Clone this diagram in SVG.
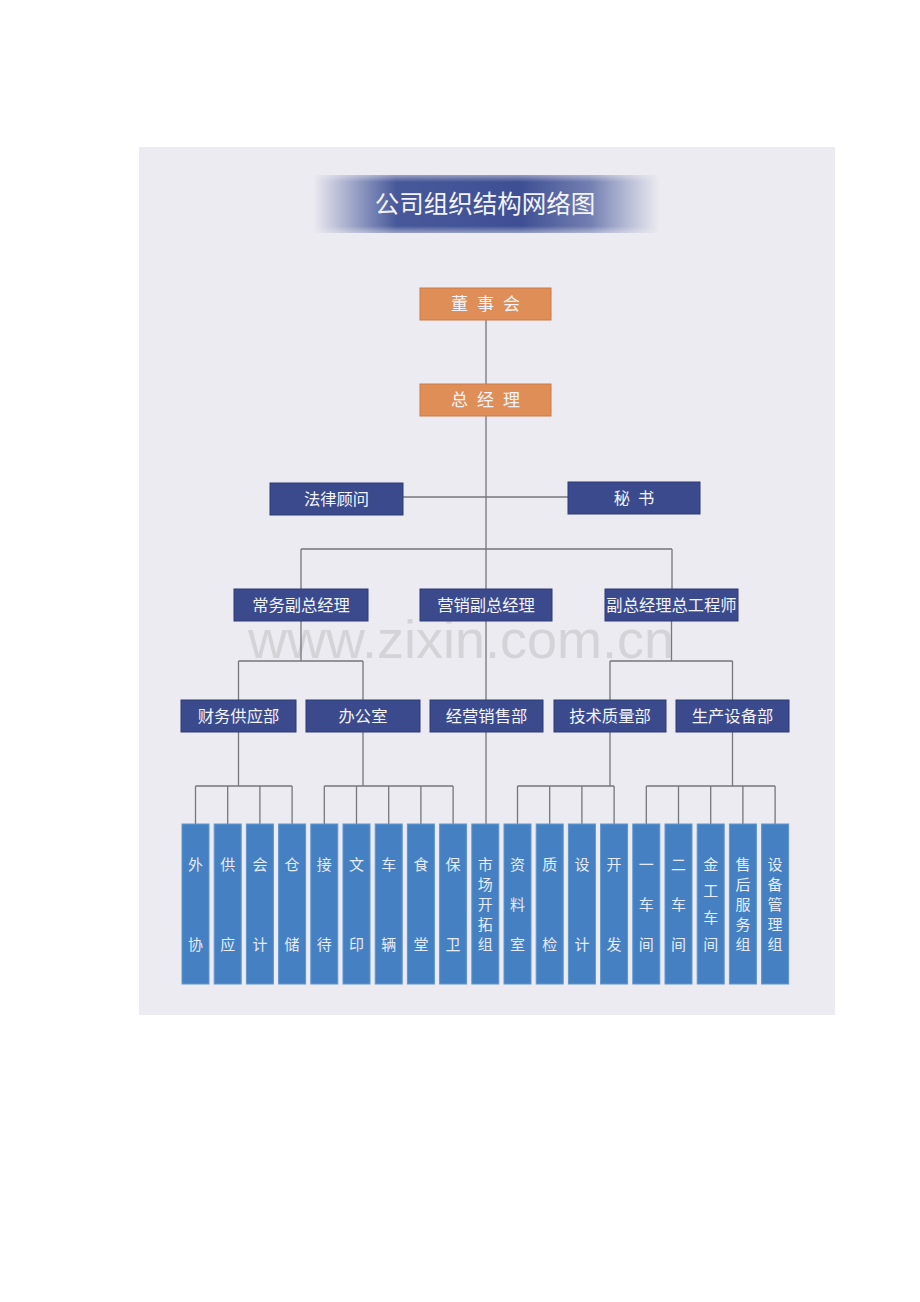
<svg xmlns="http://www.w3.org/2000/svg" width="920" height="1302" viewBox="0 0 920 1302">
<defs>
<linearGradient id="ban" x1="0" y1="0" x2="1" y2="0">
<stop offset="0" stop-color="#3f5196" stop-opacity="0"/>
<stop offset="0.24" stop-color="#3f5196" stop-opacity="0.95"/>
<stop offset="0.6" stop-color="#3e4f94" stop-opacity="1"/>
<stop offset="0.8" stop-color="#4a5b9c" stop-opacity="0.75"/>
<stop offset="1" stop-color="#5a6aa6" stop-opacity="0"/>
</linearGradient>
<linearGradient id="banv" x1="0" y1="0" x2="0" y2="1">
<stop offset="0" stop-color="#ecebf1" stop-opacity="0.5"/>
<stop offset="0.12" stop-color="#ecebf1" stop-opacity="0"/>
<stop offset="0.88" stop-color="#ecebf1" stop-opacity="0"/>
<stop offset="1" stop-color="#ecebf1" stop-opacity="0.5"/>
</linearGradient>
</defs>
<style>
.t{font-family:"Noto Sans CJK SC","Noto Sans",sans-serif;fill:#f2f4fa;text-anchor:middle}
.or{fill:#e08e58;stroke:#c97a46;stroke-width:1}
.nv{fill:#3b4a8d;stroke:#2e3b75;stroke-width:1}
.bl{fill:#4480c2;stroke:#5e96d0;stroke-width:1}
.ln{stroke:#76767c;stroke-width:1.3;fill:none}
.m{font-size:16.3px}
.o{font-size:17px;letter-spacing:9px}
.v{font-size:15px;fill:#e4ecf8}
</style>
<rect x="0" y="0" width="920" height="1302" fill="#ffffff"/>
<rect x="139" y="147" width="696" height="868" fill="#ecebf1"/>
<text x="461" y="658" font-family="Liberation Sans, Arial, sans-serif" font-size="54" fill="#cfcfd4" fill-opacity="0.85" text-anchor="middle">www.zixin.com.cn</text>
<g id="title">
<rect x="313" y="175" width="347" height="58" fill="url(#ban)"/>
<rect x="313" y="175" width="347" height="58" fill="url(#banv)"/>
<text x="485" y="213" class="t" font-size="24.5" fill="#eef0f7">公司组织结构网络图</text>
</g>
<g id="connectors">
<path class="ln" d="M486 320V384M486 416V589M486 621V700M486 732V824"/>
<path class="ln" d="M403 497H568"/>
<path class="ln" d="M301 549H672M301 549V589M672 549V589"/>
<path class="ln" d="M301 621V661M238.5 661H363M238.5 661V700M363 661V700"/>
<path class="ln" d="M671.5 621V661M610 661H732.5M610 661V700M732.5 661V700"/>
<path class="ln" d="M238.5 732V786M195.5 786H292.1M195.5 786V824M227.7 786V824M259.9 786V824M292.1 786V824"/>
<path class="ln" d="M363 732V786M324.3 786H453.1M324.3 786V824M356.5 786V824M388.7 786V824M420.9 786V824M453.1 786V824"/>
<path class="ln" d="M610 732V786M517.5 786H614.1M517.5 786V824M549.7 786V824M581.9 786V824M614.1 786V824"/>
<path class="ln" d="M732.5 732V786M646.3 786H775.1M646.3 786V824M678.5 786V824M710.7 786V824M742.9 786V824M775.1 786V824"/>
</g>
<g id="n_dongshihui"><rect class="or" x="420" y="288" width="131" height="32"/><text class="t o" x="490" y="310">董事会</text></g>
<g id="n_zongjingli"><rect class="or" x="420" y="384" width="131" height="32"/><text class="t o" x="490" y="406">总经理</text></g>
<g id="n_falv"><rect class="nv" x="270" y="483" width="133" height="32"/><text class="t m" x="336.5" y="505">法律顾问</text></g>
<g id="n_mishu"><rect class="nv" x="568" y="482" width="132" height="32"/><text class="t m" x="638" y="504" letter-spacing="8">秘书</text></g>
<g id="n_changwu"><rect class="nv" x="234" y="589" width="134" height="32"/><text class="t m" x="301" y="611">常务副总经理</text></g>
<g id="n_yingxiao"><rect class="nv" x="420" y="589" width="132" height="32"/><text class="t m" x="486" y="611">营销副总经理</text></g>
<g id="n_zonggong"><rect class="nv" x="605" y="589" width="133" height="32"/><text class="t m" x="671.5" y="611">副总经理总工程师</text></g>
<g id="n_caiwu"><rect class="nv" x="181" y="700" width="115" height="32"/><text class="t m" x="238.5" y="722">财务供应部</text></g>
<g id="n_bangong"><rect class="nv" x="306" y="700" width="114" height="32"/><text class="t m" x="363" y="722">办公室</text></g>
<g id="n_jingying"><rect class="nv" x="430" y="700" width="113" height="32"/><text class="t m" x="486.5" y="722">经营销售部</text></g>
<g id="n_jishu"><rect class="nv" x="554" y="700" width="112" height="32"/><text class="t m" x="610" y="722">技术质量部</text></g>
<g id="n_shengchan"><rect class="nv" x="676" y="700" width="113" height="32"/><text class="t m" x="732.5" y="722">生产设备部</text></g>
<g id="b_waixie"><rect class="bl" x="182" y="824" width="27" height="160"/><text class="t v" x="195.5" y="869.5">外</text><text class="t v" x="195.5" y="949.5">协</text></g>
<g id="b_gongying"><rect class="bl" x="214.2" y="824" width="27" height="160"/><text class="t v" x="227.7" y="869.5">供</text><text class="t v" x="227.7" y="949.5">应</text></g>
<g id="b_kuaiji"><rect class="bl" x="246.4" y="824" width="27" height="160"/><text class="t v" x="259.9" y="869.5">会</text><text class="t v" x="259.9" y="949.5">计</text></g>
<g id="b_cangchu"><rect class="bl" x="278.6" y="824" width="27" height="160"/><text class="t v" x="292.1" y="869.5">仓</text><text class="t v" x="292.1" y="949.5">储</text></g>
<g id="b_jiedai"><rect class="bl" x="310.8" y="824" width="27" height="160"/><text class="t v" x="324.3" y="869.5">接</text><text class="t v" x="324.3" y="949.5">待</text></g>
<g id="b_wenyin"><rect class="bl" x="343" y="824" width="27" height="160"/><text class="t v" x="356.5" y="869.5">文</text><text class="t v" x="356.5" y="949.5">印</text></g>
<g id="b_cheliang"><rect class="bl" x="375.2" y="824" width="27" height="160"/><text class="t v" x="388.7" y="869.5">车</text><text class="t v" x="388.7" y="949.5">辆</text></g>
<g id="b_shitang"><rect class="bl" x="407.4" y="824" width="27" height="160"/><text class="t v" x="420.9" y="869.5">食</text><text class="t v" x="420.9" y="949.5">堂</text></g>
<g id="b_baowei"><rect class="bl" x="439.6" y="824" width="27" height="160"/><text class="t v" x="453.1" y="869.5">保</text><text class="t v" x="453.1" y="949.5">卫</text></g>
<g id="b_shichang"><rect class="bl" x="471.8" y="824" width="27" height="160"/><text class="t v" x="485.3" y="869.5">市</text><text class="t v" x="485.3" y="889.5">场</text><text class="t v" x="485.3" y="909.5">开</text><text class="t v" x="485.3" y="929.5">拓</text><text class="t v" x="485.3" y="949.5">组</text></g>
<g id="b_ziliao"><rect class="bl" x="504" y="824" width="27" height="160"/><text class="t v" x="517.5" y="869.5">资</text><text class="t v" x="517.5" y="909.5">料</text><text class="t v" x="517.5" y="949.5">室</text></g>
<g id="b_zhijian"><rect class="bl" x="536.2" y="824" width="27" height="160"/><text class="t v" x="549.7" y="869.5">质</text><text class="t v" x="549.7" y="949.5">检</text></g>
<g id="b_sheji"><rect class="bl" x="568.4" y="824" width="27" height="160"/><text class="t v" x="581.9" y="869.5">设</text><text class="t v" x="581.9" y="949.5">计</text></g>
<g id="b_kaifa"><rect class="bl" x="600.6" y="824" width="27" height="160"/><text class="t v" x="614.1" y="869.5">开</text><text class="t v" x="614.1" y="949.5">发</text></g>
<g id="b_yichejian"><rect class="bl" x="632.8" y="824" width="27" height="160"/><text class="t v" x="646.3" y="869.5">一</text><text class="t v" x="646.3" y="909.5">车</text><text class="t v" x="646.3" y="949.5">间</text></g>
<g id="b_erchejian"><rect class="bl" x="665" y="824" width="27" height="160"/><text class="t v" x="678.5" y="869.5">二</text><text class="t v" x="678.5" y="909.5">车</text><text class="t v" x="678.5" y="949.5">间</text></g>
<g id="b_jingong"><rect class="bl" x="697.2" y="824" width="27" height="160"/><text class="t v" x="710.7" y="869.5">金</text><text class="t v" x="710.7" y="896.2">工</text><text class="t v" x="710.7" y="922.8">车</text><text class="t v" x="710.7" y="949.5">间</text></g>
<g id="b_shouhou"><rect class="bl" x="729.4" y="824" width="27" height="160"/><text class="t v" x="742.9" y="869.5">售</text><text class="t v" x="742.9" y="889.5">后</text><text class="t v" x="742.9" y="909.5">服</text><text class="t v" x="742.9" y="929.5">务</text><text class="t v" x="742.9" y="949.5">组</text></g>
<g id="b_shebei"><rect class="bl" x="761.6" y="824" width="27" height="160"/><text class="t v" x="775.1" y="869.5">设</text><text class="t v" x="775.1" y="889.5">备</text><text class="t v" x="775.1" y="909.5">管</text><text class="t v" x="775.1" y="929.5">理</text><text class="t v" x="775.1" y="949.5">组</text></g>
</svg>
